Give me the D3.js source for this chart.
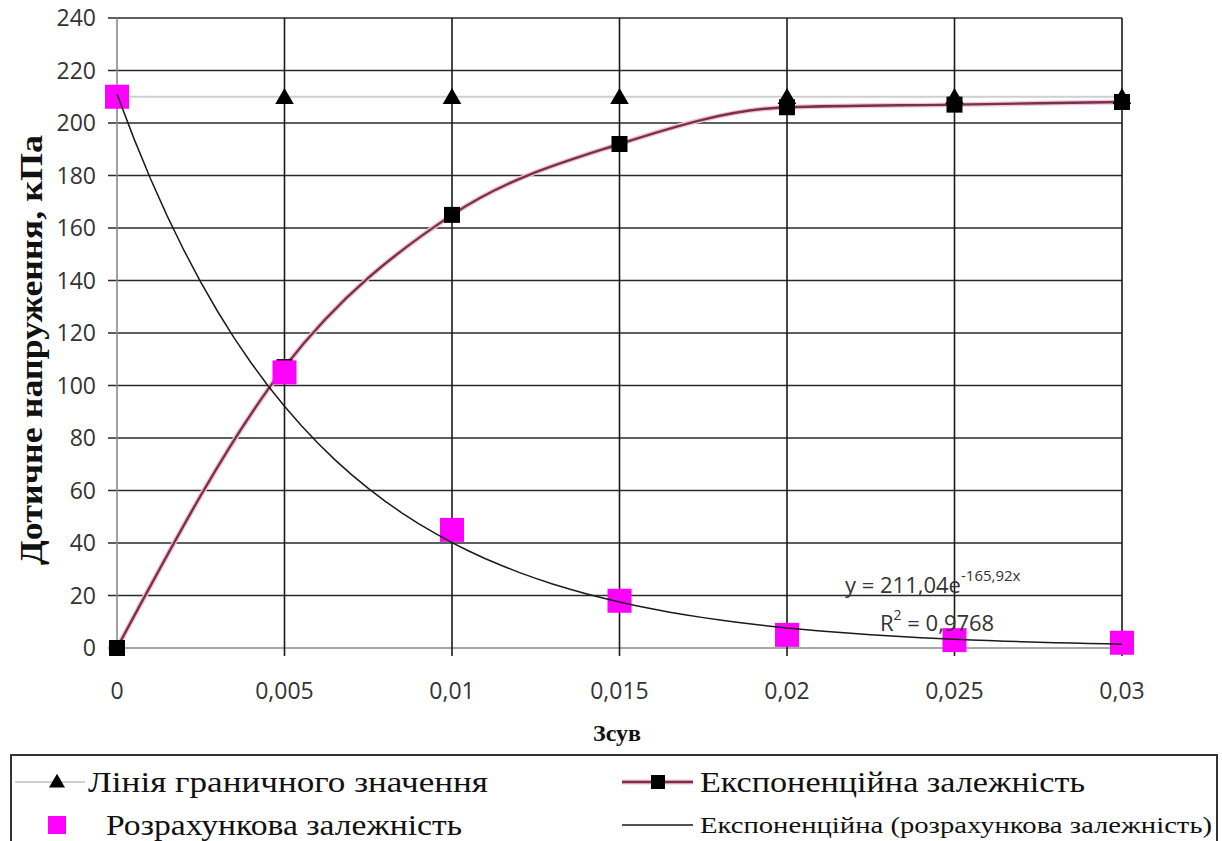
<!DOCTYPE html>
<html>
<head>
<meta charset="utf-8">
<script src="https://cdn.jsdelivr.net/npm/d3@7"></script>
<style>
  html, body { margin: 0; padding: 0; background: #fff; }
  svg { display: block; }
</style>
</head>
<body>
<svg id="chart" width="1222" height="841"></svg>
<script>
// shear (x) values and the series
const shear = [0, 0.005, 0.01, 0.015, 0.02, 0.025, 0.03];
const xTickLabels = ["0", "0,005", "0,01", "0,015", "0,02", "0,025", "0,03"];
const limitValues = [210, 210, 210, 210, 210, 210, 210];
const expValues = [0, 107, 165, 192, 206, 207, 208];
const calcValues = [210, 105, 45, 18, 5, 3, 2];
const yTicks = [0, 20, 40, 60, 80, 100, 120, 140, 160, 180, 200, 220, 240];

// trendline coefficients as printed on the chart
const trendA = 211.04;
const trendB = -165.92;

const legendNames = [
  "Лінія граничного значення",
  "Експоненційна залежність",
  "Розрахункова залежність",
  "Експоненційна (розрахункова залежність)"
];

const SANS = "Open Sans";
const SERIF = "Liberation Serif";

const svg = d3.select("#chart");

const x = d3.scaleLinear().domain([0, 0.03]).range([117, 1122]);
const y = d3.scaleLinear().domain([0, 240]).range([648, 18]);

// horizontal grid
svg.append("g").
  selectAll("line").
  data(yTicks).
  enter().
  append("line").
  attr("x1", x(0) - 9).
  attr("x2", x(0.03)).
  attr("y1", d => y(d)).
  attr("y2", d => y(d)).
  attr("stroke", d => d === 0 ? "#8a8a8a" : "#2a2a2a").
  attr("stroke-width", 1.6);

// vertical grid
svg.append("g").
  selectAll("line").
  data(shear).
  enter().
  append("line").
  attr("x1", d => x(d)).
  attr("x2", d => x(d)).
  attr("y1", y(240)).
  attr("y2", y(0) + 8).
  attr("stroke", d => d === 0 ? "#8a8a8a" : "#1a1a1a").
  attr("stroke-width", 1.6);

// tick labels
svg.append("g").
  selectAll("text").
  data(yTicks).
  enter().
  append("text").
  attr("font-family", SANS).
  attr("font-size", 23).
  attr("fill", "#333").
  attr("x", 96).
  attr("y", d => y(d) + 8).
  attr("text-anchor", "end").
  text(d => d);

svg.append("g").
  selectAll("text").
  data(shear).
  enter().
  append("text").
  attr("font-family", SANS).
  attr("font-size", 23).
  attr("fill", "#333").
  attr("x", d => x(d)).
  attr("y", 699).
  attr("text-anchor", "middle").
  text((d, i) => xTickLabels[i]);

// axis titles
svg.append("text").
  attr("font-family", SERIF).
  attr("font-weight", "bold").
  attr("font-size", 31).
  attr("fill", "#111").
  attr("transform", "translate(42,350) rotate(-90)").
  attr("text-anchor", "middle").
  attr("textLength", 430).
  attr("lengthAdjust", "spacingAndGlyphs").
  text("Дотичне напруження, кПа");

svg.append("text").
  attr("font-family", SERIF).
  attr("font-weight", "bold").
  attr("font-size", 24).
  attr("fill", "#111").
  attr("x", 617).
  attr("y", 741).
  attr("text-anchor", "middle").
  text("Зсув");

const line = d3.line().x(d => x(d[0])).y(d => y(d[1]));

// limit line
const limitPts = shear.map((s, i) => [s, limitValues[i]]);
svg.append("path").
  attr("d", line(limitPts)).
  attr("fill", "none").
  attr("stroke", "#cfcfcf").
  attr("stroke-width", 2);

// exponential dependency (smoothed)
const expPts = shear.map((s, i) => [s, expValues[i]]);
const smooth = d3.line().x(d => x(d[0])).y(d => y(d[1])).curve(d3.curveMonotoneX);
svg.append("path").
  attr("d", smooth(expPts)).
  attr("fill", "none").
  attr("stroke", "#f0c4d2").
  attr("stroke-width", 5);
svg.append("path").
  attr("d", smooth(expPts)).
  attr("fill", "none").
  attr("stroke", "#7a2f4c").
  attr("stroke-width", 2.4);

// triangles
const tri = d3.symbol().type(d3.symbolTriangle).size(150);
svg.append("g").
  selectAll("path").
  data(limitPts).
  enter().
  append("path").
  attr("d", tri).
  attr("transform", d => `translate(${x(d[0])},${y(d[1]) + 2})`).
  attr("fill", "#000");

// black squares
svg.append("g").
  selectAll("rect").
  data(expPts).
  enter().
  append("rect").
  attr("x", d => x(d[0]) - 8).
  attr("y", d => y(d[1]) - 8).
  attr("width", 16).
  attr("height", 16).
  attr("fill", "#000");

// pink squares
const calcPts = shear.map((s, i) => [s, calcValues[i]]);
svg.append("g").
  selectAll("rect").
  data(calcPts).
  enter().
  append("rect").
  attr("x", d => x(d[0]) - 12).
  attr("y", d => y(d[1]) - 12).
  attr("width", 24).
  attr("height", 24).
  attr("fill", "#ff00ff");

// trendline from the printed equation
const trendPts = d3.range(0, 0.03 + 1e-9, 0.0005).map(s => [s, trendA * Math.exp(trendB * s)]);
svg.append("path").
  attr("d", line(trendPts)).
  attr("fill", "none").
  attr("stroke", "#1a1a1a").
  attr("stroke-width", 1.5);

// equation label
const eq = svg.append("text").attr("font-family", SANS).attr("fill", "#333").
  attr("x", 845).attr("y", 593).attr("font-size", 22);
eq.append("tspan").text("y = 211,04e");
eq.append("tspan").attr("dy", -12).attr("font-size", 15).text("-165,92x");

const r2 = svg.append("text").attr("font-family", SANS).attr("fill", "#333").
  attr("x", 880).attr("y", 631).attr("font-size", 22);
r2.append("tspan").text("R");
r2.append("tspan").attr("dy", -11).attr("font-size", 14).text("2");
r2.append("tspan").attr("dy", 11).text(" = 0,9768");

// legend
svg.append("rect").
  attr("x", 11).
  attr("y", 755).
  attr("width", 1206).
  attr("height", 100).
  attr("fill", "none").
  attr("stroke", "#333").
  attr("stroke-width", 2);

const row1 = 782, row2 = 825;

function legendText(tx, ty, size, len, label) {
  svg.append("text").
    attr("font-family", SERIF).
    attr("font-size", size).
    attr("fill", "#111").
    attr("x", tx).
    attr("y", ty).
    attr("textLength", len).
    attr("lengthAdjust", "spacingAndGlyphs").
    text(label);
}

svg.append("line").attr("x1", 15).attr("x2", 85).attr("y1", row1).attr("y2", row1).
  attr("stroke", "#cfcfcf").attr("stroke-width", 2);
svg.append("path").attr("d", d3.symbol().type(d3.symbolTriangle).size(110)).
  attr("transform", `translate(57,${row1 + 1})`).attr("fill", "#000");
legendText(88, row1 + 10, 30, 400, legendNames[0]);

svg.append("rect").attr("x", 48).attr("y", row2 - 9).attr("width", 18).attr("height", 18).attr("fill", "#ff00ff");
legendText(106, row2 + 10, 30, 356, legendNames[2]);

svg.append("line").attr("x1", 622).attr("x2", 693).attr("y1", row1).attr("y2", row1).
  attr("stroke", "#f0c4d2").attr("stroke-width", 5);
svg.append("line").attr("x1", 622).attr("x2", 693).attr("y1", row1).attr("y2", row1).
  attr("stroke", "#7a2f4c").attr("stroke-width", 2.4);
svg.append("rect").attr("x", 651).attr("y", row1 - 7).attr("width", 14).attr("height", 14).attr("fill", "#000");
legendText(700, row1 + 10, 30, 385, legendNames[1]);

svg.append("line").attr("x1", 622).attr("x2", 693).attr("y1", row2).attr("y2", row2).
  attr("stroke", "#1a1a1a").attr("stroke-width", 1.5);
legendText(700, row2 + 8, 24, 512, legendNames[3]);
</script>
</body>
</html>
